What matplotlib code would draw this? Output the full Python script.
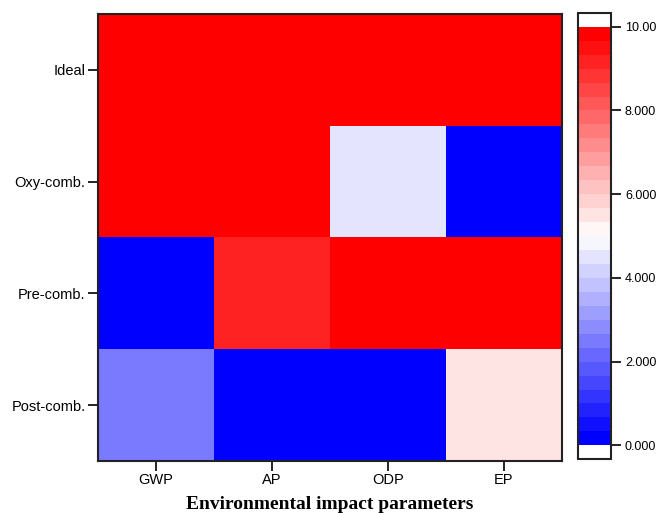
import numpy as np
import matplotlib
matplotlib.use("Agg")
import matplotlib.pyplot as plt
from matplotlib.colors import ListedColormap, Normalize

scenarios = ["Ideal", "Oxy-comb.", "Pre-comb.", "Post-comb."]
parameters = ["GWP", "AP", "ODP", "EP"]
ideal = [10.0, 10.0, 10.0, 10.0]
oxy = [10.0, 10.0, 4.5, 0.0]
pre = [0.0, 9.2, 10.0, 10.0]
post = [2.5, 0.0, 0.0, 5.5]
cbar_ticks = [0, 2, 4, 6, 8, 10]
cbar_labels = ["0.000", "2.000", "4.000", "6.000", "8.000", "10.00"]

data = np.array([ideal, oxy, pre, post])

plt.rcParams['font.family'] = ['Liberation Sans', 'DejaVu Sans']

fig = plt.figure(figsize=(6.58, 5.13), dpi=100)
ax = fig.add_axes([0.149, 0.1014, 0.705, 0.8713])
cax = fig.add_axes([0.8784, 0.105, 0.0502, 0.8697])

base = plt.get_cmap('bwr')
cmap = ListedColormap(base(np.linspace(0, 1, 30)))
cmap.set_over('white')
cmap.set_under('white')
norm = Normalize(vmin=0, vmax=10)

nrows = len(scenarios)
x = np.arange(len(parameters) + 1) - 0.5
y = np.arange(nrows + 1) - 0.5
mesh = ax.pcolormesh(x, y, data[::-1], cmap=cmap, norm=norm)
ax.set_xlim(-0.5, len(parameters) - 0.5)
ax.set_ylim(-0.5, nrows - 0.5)
ax.set_xticks(np.arange(len(parameters)))
ax.set_xticklabels(parameters, fontsize=10.5)
ax.set_yticks(np.arange(nrows))
ax.set_yticklabels(scenarios[::-1], fontsize=10.5)
ax.tick_params(direction='out', length=7, width=1.2, pad=2)
for s in ax.spines.values():
    s.set_linewidth(1.5)
    s.set_color('#222222')
ax.set_xlabel("Environmental impact parameters", fontsize=14, fontweight='bold',
              family=['Liberation Serif', 'DejaVu Serif'], labelpad=6)

cb = fig.colorbar(mesh, cax=cax, extend='both', extendrect=True, extendfrac=0.033)
cb.set_ticks(cbar_ticks)
cb.set_ticklabels(cbar_labels)
cb.ax.tick_params(labelsize=9, direction='out', length=7, width=1.2, pad=3)
cb.outline.set_linewidth(1.5)
cb.outline.set_edgecolor('#222222')

fig.savefig("out.png", dpi=100)
